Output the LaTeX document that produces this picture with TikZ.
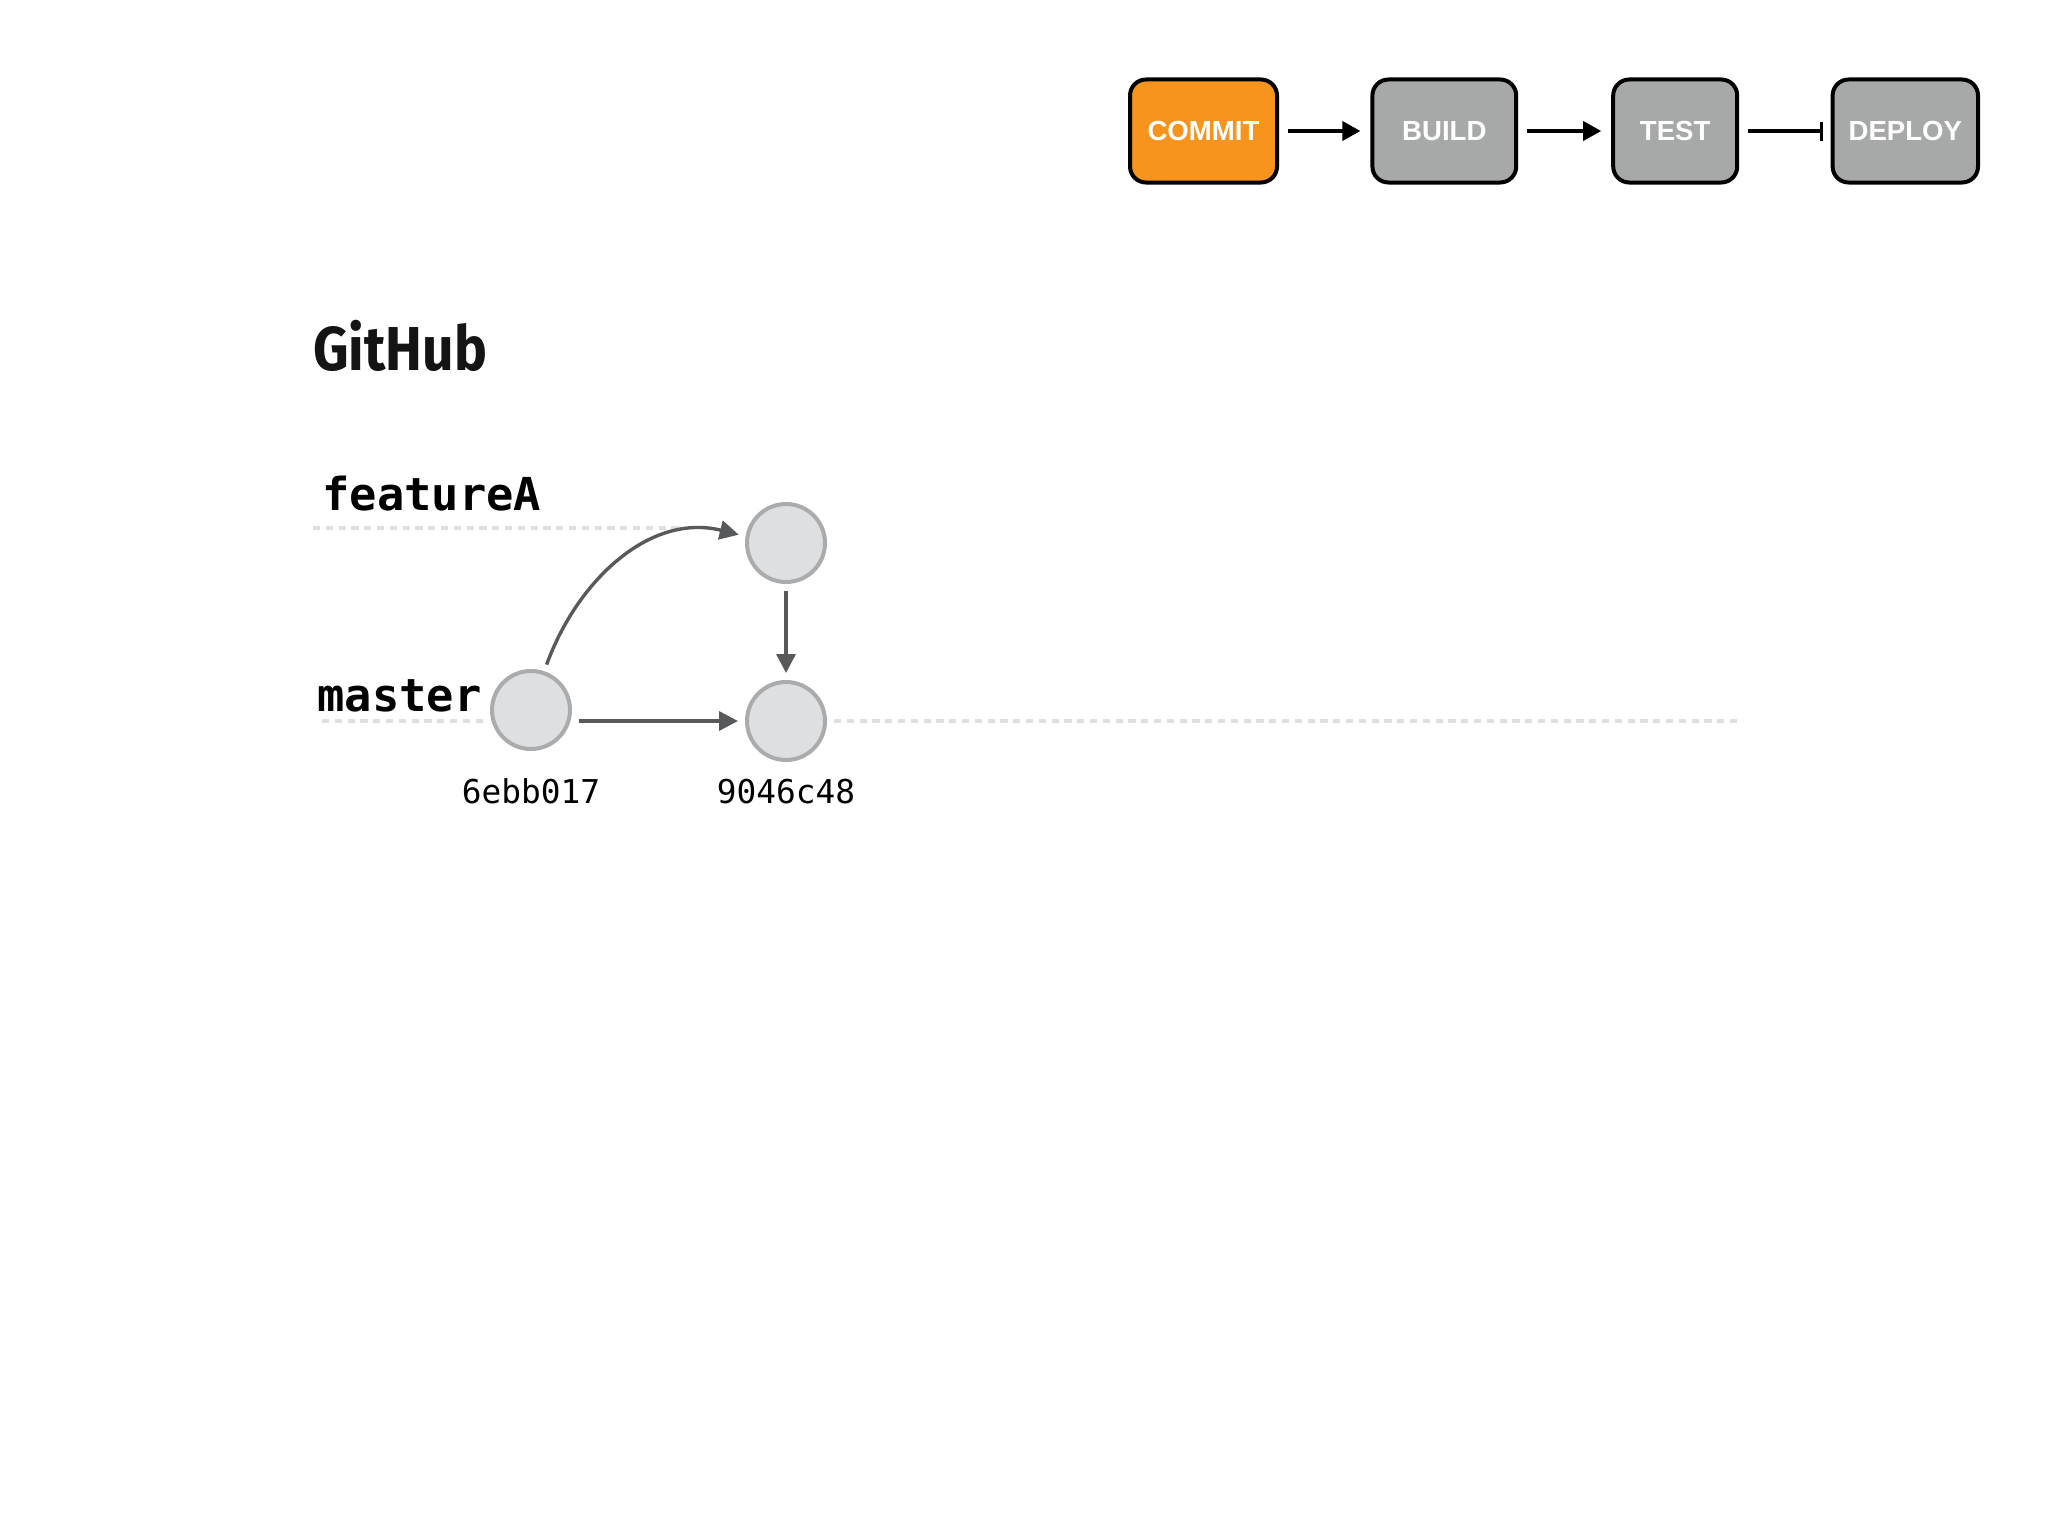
\documentclass[tikz,border=0pt]{standalone}
\usepackage{fontspec}
\setmainfont{Liberation Sans}
\newfontfamily\codefont{DejaVu Sans Mono}
\newfontfamily\logofont{Fira Sans}
\usetikzlibrary{arrows.meta,positioning}
\definecolor{stageorange}{HTML}{F7941D}
\definecolor{stagegray}{HTML}{A7A9A9}
\definecolor{commitfill}{HTML}{DEDFE0}
\definecolor{commitline}{HTML}{A9ABAC}
\definecolor{linkgray}{HTML}{58595B}
\definecolor{lanegray}{HTML}{DFDFDF}

\begin{document}
\begin{tikzpicture}[
  x=0.5pt, y=0.5pt,
  node distance=45.7pt,
  stagebox/.style={draw=black, line width=2pt, rounded corners=8pt, align=center,
              font=\bfseries\fontsize{13.8}{16}\selectfont, text=white,
              minimum height=51.5pt, inner sep=0pt, fill=#1},
  stagebox/.default=stagegray,
  flow/.style={-{Triangle[length=9pt,width=9.5pt]}, line width=1.8pt, shorten <=4.5pt, shorten >=5pt},
  gate/.style={-{Bar[width=9.5pt,line width=1.2pt]}, line width=1.8pt, shorten <=4.5pt, shorten >=4pt},
  commit/.style={circle, draw=commitline, line width=2pt, fill=commitfill,
              minimum size=39pt, inner sep=0pt, outer sep=4.5pt},
  link/.style={-{Triangle[length=9.5pt,width=9.5pt]}, color=linkgray, line width=1.7pt},
  lane/.style={color=lanegray, line width=2pt, dash pattern=on 3.6pt off 2.8pt},
  branch/.style={font=\codefont\bfseries\fontsize{22.7}{26}\selectfont, inner sep=0pt, anchor=west},
  hash/.style={font=\codefont\fontsize{16.4}{20}\selectfont, inner sep=0pt}]
\useasboundingbox (0,0) rectangle (2048,-1536);
% pipeline
\node[stagebox=stageorange, minimum width=73.5pt] (commitstage) at (1203.5,-131) {COMMIT};
\node[stagebox, minimum width=71.9pt, right=of commitstage] (build) {BUILD};
\node[stagebox, minimum width=62pt, right=46.5pt of build] (test) {TEST};
\node[stagebox, minimum width=72.7pt, right=of test] (deploy) {DEPLOY};
\draw[flow] (commitstage) -- (build);
\draw[flow] (build) -- (test);
\draw[gate] (test) -- (deploy);
% branches
\node[font=\logofont\bfseries\fontsize{31}{36}\selectfont, text=black!92, inner sep=0pt, anchor=west, xscale=0.89] (logo) at (313,-346) {GitHub};
\node[branch] (featurelabel) at (322,-494) {featureA};
\node[branch] (masterlabel) at (317,-696) {master};
\node[commit] (first) at (531,-710) {};
\node[commit] (merge) at (786,-721) {};
\node[commit] (side) at (786,-543) {};
\node[hash, below=10pt of first] (firsthash) {6ebb017};
\node[hash, below=5pt of merge] (mergehash) {9046c48};
\coordinate (featurestart) at (313,-527.5);
\coordinate (featureend) at (680,-527.5);
\coordinate (masterstart) at (322,-721);
\coordinate (masterend) at (1740,-721);
\draw[lane] (featurestart) -- (featureend);
\draw[lane] (masterstart) -- (first.west |- masterstart);
\draw[lane] (merge.east) -- (masterend);
\draw[link] (first.71) to[out=70, in=166] (side.170);
\draw[link] (first.east |- merge) -- (merge);
\draw[link] (side) -- (merge);
\end{tikzpicture}
\end{document}
